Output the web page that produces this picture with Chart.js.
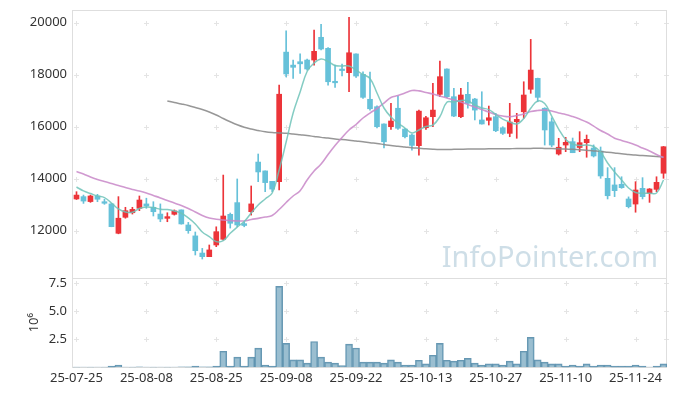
<!DOCTYPE html>
<html>
<head>
<meta charset="utf-8">
<script src="https://cdn.jsdelivr.net/npm/chart.js@4.4.1/dist/chart.umd.min.js"></script>
<style>
html, body { margin: 0; padding: 0; background: #fff; }
#wrap { position: relative; width: 677px; height: 396px; }
#priceBox { position: absolute; left: 0; top: 0; width: 677px; height: 278px; }
#volBox { position: absolute; left: 0; top: 278px; width: 677px; height: 118px; }
</style>
</head>
<body>
<div id="wrap">
  <div id="priceBox"><canvas id="priceChart"></canvas></div>
  <div id="volBox"><canvas id="volChart"></canvas></div>
</div>
<script>
// trading days (YY-MM-DD)
const dates = [
  '25-07-25','25-07-28','25-07-29','25-07-30','25-07-31','25-08-01','25-08-04','25-08-05','25-08-06','25-08-07',
  '25-08-08','25-08-11','25-08-12','25-08-13','25-08-14','25-08-18','25-08-19','25-08-20','25-08-21','25-08-22',
  '25-08-25','25-08-26','25-08-27','25-08-28','25-08-29','25-09-01','25-09-02','25-09-03','25-09-04','25-09-05',
  '25-09-08','25-09-09','25-09-10','25-09-11','25-09-12','25-09-15','25-09-16','25-09-17','25-09-18','25-09-19',
  '25-09-22','25-09-23','25-09-24','25-09-25','25-09-26','25-09-29','25-09-30','25-10-01','25-10-02','25-10-10',
  '25-10-13','25-10-14','25-10-15','25-10-16','25-10-17','25-10-20','25-10-21','25-10-22','25-10-23','25-10-24',
  '25-10-27','25-10-28','25-10-29','25-10-30','25-10-31','25-11-03','25-11-04','25-11-05','25-11-06','25-11-07',
  '25-11-10','25-11-11','25-11-12','25-11-13','25-11-14','25-11-17','25-11-18','25-11-19','25-11-20','25-11-21',
  '25-11-24','25-11-25','25-11-26','25-11-27','25-11-28'
];

const opens = [
  13220,13310,13120,13335,13115,13030,11900,12515,12690,12860,
  13030,12900,12640,12475,12630,12800,12220,11800,11140,11000,
  11450,11670,12630,13080,12270,12730,14640,14300,13900,13885,
  18870,18370,18500,18565,18565,19440,19015,17730,18200,18080,
  18800,18015,17055,16770,16105,16000,16710,15910,15680,15270,
  15960,16385,17245,18220,17155,16385,17245,17065,16260,16245,
  16385,15960,15745,16190,16575,17440,17860,16710,16190,14950,
  15295,15425,15200,15385,15180,15065,14015,13760,13785,13220,
  13025,13630,13440,13590,14210
];
const highs = [
  13500,13370,13370,13400,13210,13050,13310,12900,12900,13335,
  13250,13115,13030,12690,12800,12800,12320,11950,11320,11450,
  12150,14140,12680,13990,12330,13720,14950,14300,13900,17600,
  19690,18565,18800,18600,19720,19940,19040,18370,18410,20210,
  18800,18115,18100,16800,16110,16900,17180,15930,15720,16640,
  16400,17670,18525,18230,17475,17475,17710,17090,17345,16795,
  16515,16000,16900,16515,17730,19360,17870,16730,16345,15555,
  15590,15565,15810,15680,15300,15220,14425,14425,14075,13300,
  13885,14040,13620,14075,15240
];
const lows = [
  13200,13050,13090,13115,13015,12150,11880,12480,12640,12770,
  12860,12565,12345,12345,12600,12250,11900,11065,10910,11000,
  11385,11640,12100,12150,12150,12600,13885,13500,13500,13565,
  17920,17860,18050,18180,18370,18950,17600,17515,17950,17345,
  17900,17090,16640,15950,15180,15900,15900,15565,15100,14910,
  15900,16000,17155,17115,16385,16345,16710,16260,16100,16065,
  15810,15700,15615,15555,16325,17285,16960,15295,15230,14910,
  15040,15000,15040,14825,14835,14015,13220,13310,13630,12875,
  12710,13220,13090,13500,14015
];
const closes = [
  13370,13140,13335,13210,13055,12155,12480,12770,12820,13180,
  12950,12730,12450,12540,12760,12260,12000,11230,11000,11260,
  11960,12565,12285,12220,12200,13030,14260,13850,13600,17250,
  18030,18285,18420,18220,18900,18990,17730,17690,18160,18845,
  17950,17130,16690,16000,15420,16220,15940,15615,15280,16600,
  16345,16640,17925,17155,16410,17220,16900,16640,16105,16345,
  15845,15745,16180,16285,17220,18180,17130,15875,15295,15210,
  15400,15000,15385,15515,14875,14105,13345,13540,13655,12925,
  13565,13310,13605,13860,15230
];

// moving averages
const ma5 = [
  13680,13530,13430,13335,13275,13065,12835,12720,12710,12855,
  12910,12890,12825,12815,12760,12670,12490,12260,11950,11770,
  11580,11620,11900,12140,12355,12680,12990,13220,13450,14335,
  15410,16525,17335,18125,18450,18605,18510,18355,18335,18335,
  18180,18010,17855,17295,16720,16375,16140,15950,15760,15875,
  16010,16065,16385,16940,16950,17010,16990,16835,16720,16660,
  16470,16295,16180,16105,16315,16710,16990,16890,16410,15910,
  15510,15335,15275,15295,15240,15025,14605,14260,13950,13640,
  13470,13440,13440,13450,13950
];
const ma20 = [
  14275,14180,14065,13970,13890,13815,13740,13660,13585,13525,
  13450,13355,13260,13160,13065,12970,12855,12720,12585,12490,
  12440,12410,12390,12375,12375,12430,12475,12525,12585,12815,
  13085,13335,13540,13950,14295,14565,14930,15275,15585,15875,
  16085,16335,16525,16700,16910,17125,17200,17295,17390,17380,
  17315,17260,17180,17105,17025,16950,16855,16760,16660,16565,
  16470,16410,16385,16430,16490,16585,16625,16640,16605,16525,
  16470,16390,16295,16180,16025,15855,15720,15560,15470,15390,
  15295,15180,15065,14930,14815
];
const ma60 = [
  null,null,null,null,null,null,null,null,null,null,
  null,null,null,16990,16930,16875,16815,16740,16660,16565,
  16450,16315,16190,16075,15980,15910,15855,15805,15775,15760,
  15745,15720,15690,15660,15625,15590,15565,15525,15505,15480,
  15450,15420,15385,15355,15315,15275,15250,15220,15190,15170,
  15150,15135,15125,15125,15130,15135,15140,15140,15145,15150,
  15150,15150,15155,15160,15160,15165,15170,15165,15160,15150,
  15140,15130,15115,15095,15070,15050,15020,14990,14960,14935,
  14910,14890,14870,14850,14830
];

// volume, millions of shares
const volumes = [
  0.02,0.03,0.02,0.03,0.02,0.10,0.20,0.03,0.02,0.04,
  0.03,0.02,0.03,0.02,0.03,0.04,0.05,0.10,0.04,0.05,
  0.10,1.43,0.10,0.90,0.10,0.90,1.70,0.20,0.10,7.20,
  2.13,0.66,0.66,0.37,2.30,0.90,0.46,0.37,0.16,2.07,
  1.72,0.46,0.46,0.46,0.37,0.66,0.46,0.20,0.20,0.63,
  0.30,1.07,2.13,0.63,0.55,0.63,0.80,0.37,0.20,0.30,
  0.30,0.20,0.55,0.30,1.43,2.66,0.66,0.46,0.30,0.30,
  0.10,0.20,0.10,0.30,0.10,0.20,0.20,0.10,0.10,0.10,
  0.20,0.10,0.03,0.10,0.30
];

const priceTicks = [12000, 14000, 16000, 18000, 20000];
const volTicks = [2.5, 5.0, 7.5];
const tickEvery = 10;

const UP = '#ec3439';
const DOWN = '#66c1d9';
const candleColors = opens.map((o, i) => closes[i] >= o ? UP : DOWN);

Chart.defaults.font.family = "'Noto Sans', sans-serif";
Chart.defaults.font.size = 13;
Chart.defaults.color = '#333';

const xTickIdx = dates.map((d, i) => i).filter(i => i % tickEvery === 0);

// y axis: fixed width, and no extra room above / below for the labels
function fixY(s) {
  s.width = 73;
  s.paddingTop = 0;
  s.paddingBottom = 0;
}

// small "+" marks where grid lines would cross, plus the frame
const crossGrid = {
  id: 'crossGrid',
  beforeDatasetsDraw(chart) {
    const ctx = chart.ctx;
    const a = chart.chartArea;
    const xs = chart.scales.x, ys = chart.scales.y;
    ctx.save();
    ctx.strokeStyle = '#e4e4e4';
    ctx.lineWidth = 1;
    const cols = xTickIdx.map(i => Math.round(xs.getPixelForValue(i)) + 0.5);
    cols.push(Math.round(a.right) - 0.5);
    ys.ticks.forEach(t => {
      const py = Math.round(ys.getPixelForValue(t.value)) + 0.5;
      cols.forEach(px => {
        ctx.beginPath();
        ctx.moveTo(px - 2.5, py); ctx.lineTo(px + 2.5, py);
        ctx.moveTo(px, py - 2.5); ctx.lineTo(px, py + 2.5);
        ctx.stroke();
      });
    });
    ctx.strokeStyle = '#dedede';
    ctx.strokeRect(Math.round(a.left) - 0.5, Math.round(a.top) + 0.5,
      Math.round(a.right - a.left), Math.round(a.bottom - a.top));
    ctx.restore();
  }
};

const watermark = {
  id: 'watermark',
  beforeDatasetsDraw(chart) {
    const ctx = chart.ctx;
    const a = chart.chartArea;
    const text = 'InfoPointer.com';
    ctx.save();
    ctx.font = "32px 'Noto Sans', sans-serif";
    const size = Math.round(32 * 217 / ctx.measureText(text).width);
    ctx.font = size + "px 'Noto Sans', sans-serif";
    ctx.fillStyle = 'rgba(180, 204, 218, 0.65)';
    ctx.textAlign = 'right';
    ctx.textBaseline = 'alphabetic';
    ctx.fillText(text, a.right - 9, a.bottom - 11);
    ctx.restore();
  }
};

const priceChart = new Chart(document.getElementById('priceChart'), {
  type: 'bar',
  data: {
    labels: dates,
    datasets: [
      { type: 'line', data: ma5, borderColor: 'rgba(110, 195, 185, 0.85)', borderWidth: 1.5,
        pointRadius: 0, tension: 0.4, order: 0 },
      { type: 'line', data: ma20, borderColor: 'rgba(200, 135, 200, 0.85)', borderWidth: 1.6,
        pointRadius: 0, tension: 0.4, order: 0 },
      { type: 'line', data: ma60, borderColor: 'rgba(140, 140, 140, 0.9)', borderWidth: 1.5,
        pointRadius: 0, tension: 0.4, order: 0 },
      { data: opens.map((o, i) => [o, closes[i]]), backgroundColor: candleColors,
        barThickness: 5, minBarLength: 1.5, grouped: false, order: 1 },
      { data: lows.map((l, i) => [l, highs[i]]), backgroundColor: candleColors,
        barThickness: 1, grouped: false, order: 2 }
    ]
  },
  options: {
    responsive: true,
    maintainAspectRatio: false,
    animation: false,
    layout: { padding: { top: 10, right: 10, left: 0, bottom: 0 } },
    plugins: { legend: { display: false }, tooltip: { enabled: false } },
    scales: {
      x: { display: false },
      y: {
        min: 10180, max: 20490,
        afterBuildTicks: s => { s.ticks = priceTicks.map(v => ({ value: v })); },
        afterFit: fixY,
        grid: { display: false, drawTicks: false },
        border: { display: false },
        ticks: { padding: 6, callback: v => String(v) }
      }
    }
  },
  plugins: [crossGrid, watermark]
});

const volChart = new Chart(document.getElementById('volChart'), {
  type: 'bar',
  data: {
    labels: dates,
    datasets: [{
      data: volumes,
      backgroundColor: 'rgba(115, 165, 190, 0.72)',
      borderColor: 'rgba(85, 140, 170, 0.9)',
      borderWidth: 1,
      barPercentage: 1,
      categoryPercentage: 1
    }]
  },
  options: {
    responsive: true,
    maintainAspectRatio: false,
    animation: false,
    layout: { padding: { top: 0, right: 10, left: 0, bottom: 0 } },
    plugins: { legend: { display: false }, tooltip: { enabled: false } },
    scales: {
      x: {
        afterBuildTicks: s => { s.ticks = xTickIdx.map(i => ({ value: i })); },
        afterFit: s => { s.height = 28.7; s.paddingLeft = 0; s.paddingRight = 0; },
        grid: { display: false, drawTicks: false },
        border: { display: false },
        ticks: { autoSkip: false, maxRotation: 0, padding: 3 }
      },
      y: {
        min: 0, max: 7.95,
        afterBuildTicks: s => { s.ticks = volTicks.map(v => ({ value: v })); },
        afterFit: fixY,
        grid: { display: false, drawTicks: false },
        border: { display: false },
        title: { display: true, text: '10⁶', padding: { top: 26, bottom: 0 } },
        ticks: { padding: 6, callback: v => v.toFixed(1) }
      }
    }
  },
  plugins: [crossGrid]
});
</script>
</body>
</html>
